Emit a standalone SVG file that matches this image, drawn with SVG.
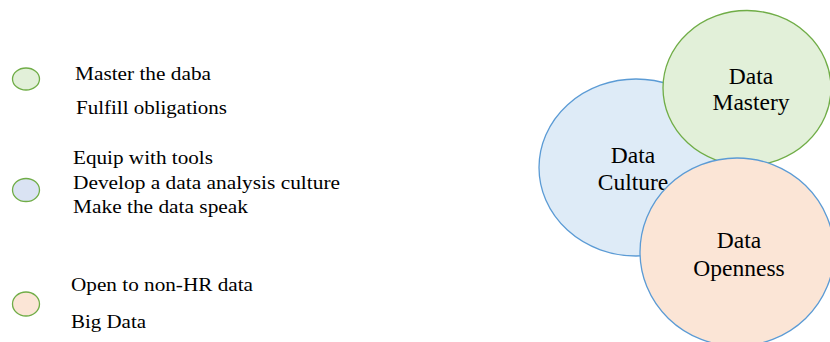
<svg xmlns="http://www.w3.org/2000/svg" width="830" height="342" viewBox="0 0 830 342">
<style>
.lt{font-size:18.5px}
.ct{font-size:23.5px;text-anchor:middle}
.sw{stroke-width:1.3}
.gs{stroke:#70AD47}
.bs{stroke:#5B9BD5}
</style>
<rect width="830" height="342" fill="#fff"/>
<g font-family="Liberation Serif, serif" fill="#000">
<g id="legend-mastery">
<ellipse cx="26" cy="79" rx="13.5" ry="11" fill="#E2F0D9" class="gs sw"/>
<text class="lt" x="75" y="79.5" textLength="136" lengthAdjust="spacingAndGlyphs">Master the daba</text>
<text class="lt" x="76" y="114" textLength="151" lengthAdjust="spacingAndGlyphs">Fulfill obligations</text>
</g>
<g id="legend-culture">
<ellipse cx="26" cy="190" rx="13.5" ry="11.5" fill="#DAE3F3" class="gs sw"/>
<text class="lt" x="73" y="164" textLength="140" lengthAdjust="spacingAndGlyphs">Equip with tools</text>
<text class="lt" x="73" y="189" textLength="267" lengthAdjust="spacingAndGlyphs">Develop a data analysis culture</text>
<text class="lt" x="73" y="213" textLength="175" lengthAdjust="spacingAndGlyphs">Make the data speak</text>
</g>
<g id="legend-openness">
<ellipse cx="26" cy="304" rx="13.5" ry="12" fill="#FBE5D6" class="gs sw"/>
<text class="lt" x="71" y="291" textLength="182" lengthAdjust="spacingAndGlyphs">Open to non-HR data</text>
<text class="lt" x="71" y="328" textLength="75" lengthAdjust="spacingAndGlyphs">Big Data</text>
</g>
<g id="data-culture">
<ellipse cx="636" cy="167.5" rx="97" ry="88.5" fill="#DEEBF7" class="bs sw"/>
<text class="ct" x="633" y="163">Data</text>
<text class="ct" x="633" y="190">Culture</text>
</g>
<g id="data-mastery">
<ellipse cx="747" cy="88" rx="84" ry="77.5" fill="#E2F0D9" class="gs sw"/>
<text class="ct" x="751" y="84">Data</text>
<text class="ct" x="751" y="110">Mastery</text>
</g>
<g id="data-openness">
<ellipse cx="737" cy="252" rx="97" ry="94" fill="#FBE5D6" class="bs sw"/>
<text class="ct" x="739" y="248">Data</text>
<text class="ct" x="739" y="276">Openness</text>
</g>
</g>
<g id="connectors"></g>
</svg>
